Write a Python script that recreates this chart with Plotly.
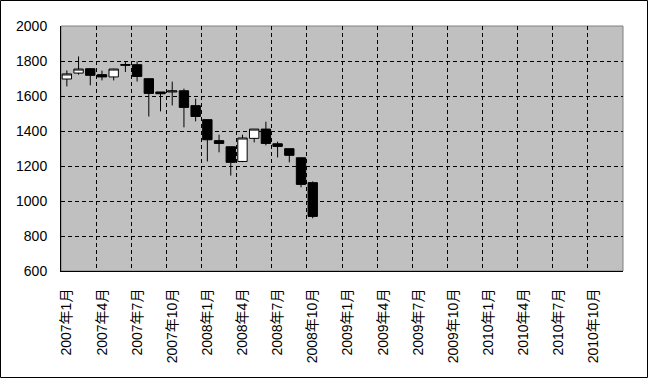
import plotly.graph_objects as go

# Monthly candles, Jan 2007 - Oct 2008 (month index 0 = 2007年1月)
months = list(range(22))
opens  = [1697, 1731, 1756, 1722, 1709, 1780, 1779, 1699, 1623, 1623, 1630, 1545,
          1465, 1345, 1310, 1226, 1358, 1411, 1327, 1299, 1247, 1105]
highs  = [1746, 1826, 1758, 1745, 1756, 1798, 1798, 1699, 1623, 1682, 1642, 1585,
          1465, 1379, 1310, 1379, 1411, 1453, 1339, 1299, 1247, 1112]
lows   = [1655, 1722, 1661, 1689, 1689, 1737, 1683, 1483, 1512, 1546, 1421, 1455,
          1226, 1278, 1145, 1222, 1335, 1318, 1249, 1221, 1078, 901]
closes = [1726, 1754, 1718, 1709, 1754, 1776, 1712, 1615, 1613, 1629, 1535, 1483,
          1350, 1329, 1221, 1360, 1411, 1329, 1312, 1261, 1095, 912]

# Axis labels: every quarter, 2007-2010
tick_pos = list(range(0, 48, 3))
tick_text = [f"{y}年{m}月" for y in (2007, 2008, 2009, 2010) for m in (1, 4, 7, 10)]
grid_pos = [p - 0.5 for p in tick_pos[1:]]

y_min, y_max, y_step = 600, 2000, 200

W, H = 649, 379
ML, MR, MT, MB = 61, 26, 26, 108
pw, ph = W - ML - MR, H - MT - MB

font = "Liberation Sans, Arial, Noto Sans CJK JP, sans-serif"

fig = go.Figure(go.Candlestick(
    x=months, open=opens, high=highs, low=lows, close=closes,
    increasing=dict(fillcolor="white", line=dict(color="black", width=1)),
    decreasing=dict(fillcolor="black", line=dict(color="black", width=1)),
    whiskerwidth=0, showlegend=False, hoverinfo="skip",
))

fig.update_layout(
    width=W, height=H,
    margin=dict(l=ML, r=MR, t=MT, b=MB, pad=0),
    paper_bgcolor="white", plot_bgcolor="#C0C0C0",
    font=dict(family=font, size=14, color="black"),
    boxgap=0.2, boxgroupgap=0,
    xaxis=dict(
        range=[-0.5, 47.5], rangeslider=dict(visible=False),
        tickmode="array", tickvals=tick_pos, ticktext=tick_text,
        tickangle=-90, showgrid=False, zeroline=False,
        ticks="outside", ticklen=11, tickcolor="rgba(0,0,0,0)",
        showline=True, linecolor="black", linewidth=1,
        minor=dict(tickmode="array", tickvals=grid_pos, showgrid=True,
                   gridcolor="black", gridwidth=1, griddash="4px,3px", ticks=""),
        fixedrange=True,
    ),
    yaxis=dict(
        range=[y_min, y_max], tickmode="linear", tick0=y_min, dtick=y_step,
        showgrid=True, gridcolor="black", gridwidth=1, griddash="4px,3px",
        zeroline=False, ticks="outside", ticklen=10, tickcolor="rgba(0,0,0,0)",
        showline=True, linecolor="black", linewidth=1,
        fixedrange=True,
    ),
    shapes=[
        dict(type="rect", xref="paper", yref="paper", x0=0, x1=1, y0=0, y1=1,
             line=dict(color="#808080", width=1), layer="below"),
        dict(type="rect", xref="paper", yref="paper",
             x0=-(ML - 0.5) / pw, x1=1 + (MR - 1.5) / pw,
             y0=-(MB - 1.5) / ph, y1=1 + (MT - 0.5) / ph,
             line=dict(color="black", width=1), layer="above"),
    ],
)

fig.write_html("out.html")
